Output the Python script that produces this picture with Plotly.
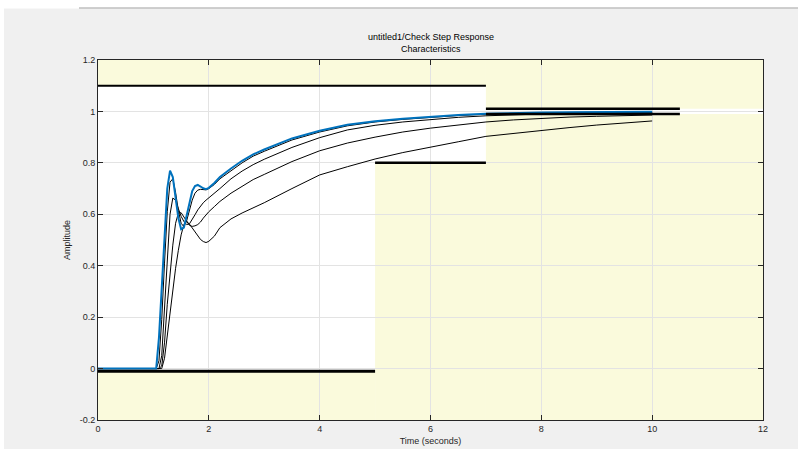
import plotly.graph_objects as go

# ---- data ----
time_s = [0, 1.0, 1.05, 1.1, 1.15, 1.2, 1.25, 1.3, 1.35, 1.4, 1.45, 1.5, 1.55, 1.6, 1.65,
          1.7, 1.75, 1.8, 1.85, 1.9, 1.95, 2.0, 2.1, 2.2, 2.4, 2.6, 2.8, 3.0, 3.5, 4.0,
          4.5, 5.0, 5.5, 6.0, 6.5, 7.0, 7.5, 8.0, 8.5, 9.0, 9.5, 10.0]

resp_blue = [0, 0, 0.0, 0.12, 0.30, 0.52, 0.70, 0.77, 0.745, 0.665, 0.585, 0.542, 0.548, 0.595,
             0.648, 0.69, 0.71, 0.714, 0.708, 0.701, 0.698, 0.703, 0.722, 0.745, 0.778, 0.808,
             0.833, 0.852, 0.895, 0.925, 0.948, 0.962, 0.972, 0.98, 0.986, 0.991, 0.994, 0.996,
             0.997, 0.998, 0.999, 0.999]
resp_a = [0, 0, 0, 0.03, 0.19, 0.41, 0.61, 0.725, 0.738, 0.685, 0.615, 0.565, 0.552, 0.575,
          0.615, 0.655, 0.682, 0.694, 0.697, 0.695, 0.695, 0.70, 0.716, 0.738, 0.770, 0.800,
          0.826, 0.845, 0.889, 0.920, 0.944, 0.959, 0.969, 0.977, 0.984, 0.989, 0.992, 0.994,
          0.996, 0.997, 0.998, 0.998]
resp_b = [0, 0, 0, 0, 0.05, 0.23, 0.44, 0.60, 0.663, 0.655, 0.622, 0.592, 0.572, 0.56, 0.563,
          0.578, 0.598, 0.617, 0.633, 0.645, 0.655, 0.664, 0.68, 0.70, 0.738, 0.768, 0.793,
          0.814, 0.860, 0.898, 0.928, 0.946, 0.959, 0.969, 0.977, 0.983, 0.987, 0.990, 0.992,
          0.994, 0.995, 0.996]
resp_c = [0, 0, 0, 0, 0.01, 0.10, 0.25, 0.38, 0.48, 0.565, 0.605, 0.606, 0.59, 0.57, 0.557,
          0.553, 0.555, 0.56, 0.57, 0.585, 0.598, 0.61, 0.63, 0.65, 0.682, 0.71, 0.735, 0.755,
          0.805, 0.847, 0.877, 0.90, 0.92, 0.935, 0.947, 0.959, 0.967, 0.973, 0.978, 0.981,
          0.984, 0.986]
resp_d = [0, 0, 0, 0, 0, 0.04, 0.13, 0.22, 0.31, 0.39, 0.46, 0.52, 0.56, 0.572, 0.562, 0.546,
          0.53, 0.515, 0.502, 0.494, 0.49, 0.495, 0.515, 0.548, 0.582, 0.605, 0.625, 0.645,
          0.70, 0.753, 0.785, 0.815, 0.84, 0.86, 0.882, 0.903, 0.915, 0.927, 0.937, 0.947,
          0.955, 0.963]

# step-response bound segments (x start, x end, level)
bound_x0 = [0, 0, 5, 7, 7]
bound_x1 = [7, 5, 7, 10.5, 10.5]
bound_y = [1.1, -0.01, 0.8, 1.01, 0.99]
bound_w = [2, 3, 2.5, 2.5, 2.5]

# shaded (violated) regions: x0, x1, y0, y1
region_x0 = [0, 7, 0, 5, 7]
region_x1 = [7, 12, 5, 7, 12]
region_y0 = [1.1, 1.01, -0.2, -0.2, -0.2]
region_y1 = [1.2, 1.2, -0.01, 0.8, 0.99]

x_ticks = [0, 2, 4, 6, 8, 10, 12]
y_ticks = [-0.2, 0, 0.2, 0.4, 0.6, 0.8, 1.0, 1.2]
y_tick_text = ["-0.2", "0", "0.2", "0.4", "0.6", "0.8", "1", "1.2"]

FONT = "Liberation Sans"
AX = "#262626"
YEL = "#FAFADC"
FS = 9

fig = go.Figure()

for col, ys, w in [("black", resp_d, 1), ("black", resp_c, 1), ("black", resp_b, 1),
                   ("black", resp_a, 1), ("#0072BD", resp_blue, 2)]:
    fig.add_trace(go.Scatter(x=time_s, y=ys, mode="lines",
                             line=dict(color=col, width=w), showlegend=False,
                             hoverinfo="skip"))

for x0, x1, y, w in zip(bound_x0, bound_x1, bound_y, bound_w):
    fig.add_trace(go.Scatter(x=[x0, x1], y=[y, y], mode="lines",
                             line=dict(color="black", width=w), showlegend=False,
                             hoverinfo="skip"))

shapes = []
for x0, x1, y0, y1 in zip(region_x0, region_x1, region_y0, region_y1):
    shapes.append(dict(type="rect", xref="x", yref="y", x0=x0, x1=x1, y0=y0, y1=y1,
                       fillcolor=YEL, line=dict(width=0), layer="below"))

# window decoration: white strip at the top / left edge and a thin separator line
L, T, PW, PH = 98, 60, 665, 360
def px(xp):
    return (xp - L) / PW
def py(yp):
    return 1 - (yp - T) / PH
shapes.append(dict(type="rect", xref="paper", yref="paper", x0=px(-2), x1=px(800),
                   y0=py(8.5), y1=py(-2), fillcolor="white", line=dict(width=0), layer="below"))
shapes.append(dict(type="rect", xref="paper", yref="paper", x0=px(-2), x1=px(4),
                   y0=py(451), y1=py(-2), fillcolor="white", line=dict(width=0), layer="below"))
shapes.append(dict(type="line", xref="paper", yref="paper", x0=px(79), x1=px(800),
                   y0=py(8), y1=py(8), line=dict(color="#A0A0A0", width=1.2)))

annotations = [
    dict(text="untitled1/Check Step Response", xref="paper", yref="paper",
         x=0.5, y=py(37), showarrow=False, font=dict(family=FONT, size=FS, color="black"),
         xanchor="center", yanchor="middle"),
    dict(text="Characteristics", xref="paper", yref="paper",
         x=0.5, y=py(49), showarrow=False, font=dict(family=FONT, size=FS, color="black"),
         xanchor="center", yanchor="middle"),
]

fig.update_layout(
    width=798, height=449,
    margin=dict(l=L, r=798 - L - PW, t=T, b=449 - T - PH, autoexpand=False),
    paper_bgcolor="#F0F0F0", plot_bgcolor="white",
    shapes=shapes, annotations=annotations,
    font=dict(family=FONT, size=FS, color=AX),
    xaxis=dict(range=[0, 12], tickvals=x_ticks, ticks="inside", ticklen=5,
               tickcolor=AX, showline=True, linecolor=AX, linewidth=1, mirror="ticks",
               showgrid=True, gridcolor="#E3E3E3", gridwidth=1, zeroline=False,
               title=dict(text="Time (seconds)", font=dict(size=FS, color=AX), standoff=4),
               tickfont=dict(size=FS, color=AX)),
    yaxis=dict(range=[-0.2, 1.2], tickvals=y_ticks, ticktext=y_tick_text, ticks="inside",
               ticklen=5, tickcolor=AX, showline=True, linecolor=AX, linewidth=1,
               mirror="ticks", showgrid=True, gridcolor="#E3E3E3", gridwidth=1,
               zeroline=False,
               title=dict(text="Amplitude", font=dict(size=FS, color=AX), standoff=7),
               tickfont=dict(size=FS, color=AX)),
)

fig.write_html("out.html", config={"displayModeBar": False},
               post_script="document.body.style.margin='0';document.body.style.padding='0';")
